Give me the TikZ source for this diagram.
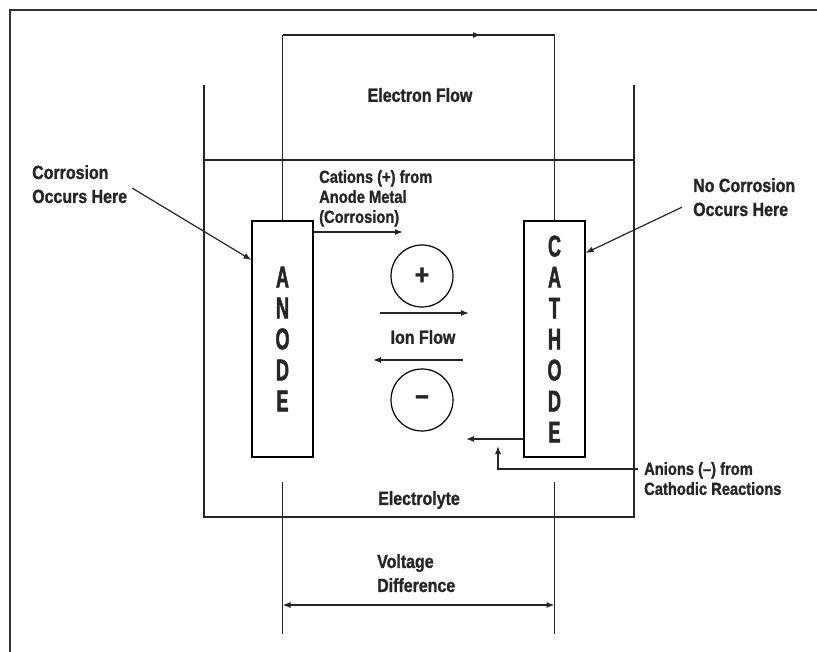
\documentclass[tikz,border=0pt]{standalone}
\usepackage{fontspec}
\setmainfont{Liberation Sans}[FakeStretch=0.84,BoldFeatures={FakeBold=1.2}]
\newfontfamily\electrodefont{Liberation Sans}[FakeStretch=0.6,BoldFeatures={FakeBold=1.5}]
\usetikzlibrary{arrows.meta,positioning,decorations.markings}

\tikzset{
  wire/.style={line width=1.2pt,black!85},
  flow/.style={wire,-{Latex[length=8pt,width=6pt]}},
  lbl/.style={font=\fontsize{19}{24}\selectfont\bfseries,text=black!85,inner sep=0pt},
  smalllbl/.style={font=\fontsize{17.5}{20}\selectfont\bfseries,text=black!85,inner sep=0pt,align=left},
  electrode/.style={draw,line width=1.2pt,minimum width=61pt,minimum height=236pt,inner sep=0pt,
    align=center,font=\electrodefont\fontsize{30}{31}\selectfont\bfseries,text=black!85},
  ion/.style={draw,circle,line width=1.2pt,minimum size=62pt,inner sep=0pt,
    font=\fontsize{29}{29}\selectfont\bfseries,text=black!85}
}

\begin{document}
\begin{tikzpicture}[x=1pt,y=-1pt]
  \useasboundingbox (0,0) rectangle (817,652);
  % frame and beaker
  \draw[line width=2.2pt,black!80] (10,652) -- (10,10) -- (817,10);
  \draw[wire] (204,85) -- (204,517) -- (634,517) -- (634,85);
  \draw[wire] (204,160) -- (634,160);

  \node[electrode] (anode) at (282.5,339) {A\\N\\O\\D\\E};
  \node[electrode] (cathode) at (554.5,339) {C\\A\\T\\H\\O\\D\\E};

  % external circuit
  \coordinate (wl) at (282.5,35);
  \coordinate (wr) at (554.5,35);
  \draw[wire] (anode.north) -- (wl);
  \draw[wire,decoration={markings,mark=at position 0.73 with {\arrow{Latex[length=8pt,width=6pt]}}},
    postaction={decorate}] (wl) -- (wr);
  \draw[wire] (wr) -- (cathode.north);
  \node[lbl] (eflow) at (420,95) {Electron Flow};

  \node[lbl,align=left,anchor=north west] (corr) at (32,165) {Corrosion\\Occurs Here};
  \draw[flow] ([xshift=5pt,yshift=-4pt]corr.east) -- ([yshift=79pt]anode.west);
  \node[lbl,align=left,anchor=north west] (nocorr) at (693,178) {No Corrosion\\Occurs Here};
  \draw[flow] ([xshift=-11pt,yshift=-10pt]nocorr.west) -- ([yshift=86pt]cathode.east);

  \node[smalllbl,anchor=north west] (cations) at (319,170) {Cations (+) from\\Anode Metal\\(Corrosion)};
  \coordinate (catend) at (403,232);
  \draw[flow] (anode.east |- catend) -- (catend);

  % ions
  \node[ion] (plus) at (422,276) {+};
  \node[ion] (minus) at (422,400) {--};
  \node[lbl] (ionflow) at (423,337) {Ion Flow};
  \coordinate (r1) at (380,313);
  \coordinate (r2) at (469,313);
  \coordinate (l1) at (463,360);
  \coordinate (l2) at (373,360);
  \draw[flow] (r1) -- (r2);
  \draw[flow] (l1) -- (l2);

  \coordinate (anend) at (466,439);
  \draw[flow] (cathode.west |- anend) -- (anend);
  \node[smalllbl,anchor=north west] (anions) at (644,462) {Anions (--) from\\Cathodic Reactions};
  \coordinate (ajoin) at (638,469);
  \coordinate (aup) at (498,446);
  \draw[flow] (ajoin) -| (aup);

  \node[lbl] (electrolyte) at (419,500) {Electrolyte};

  % voltage difference
  \coordinate (va) at (282.5,482);
  \coordinate (vc) at (554.5,482);
  \draw[wire] (va) -- ++(0,152);
  \draw[wire] (vc) -- ++(0,152);
  \draw[wire,{Latex[length=8pt,width=6pt]}-{Latex[length=8pt,width=6pt]}] ([yshift=-123pt]va) -- ([yshift=-123pt]vc);
  \node[lbl,align=left,anchor=north west] (volt) at (377,554) {Voltage\\Difference};
\end{tikzpicture}
\end{document}
